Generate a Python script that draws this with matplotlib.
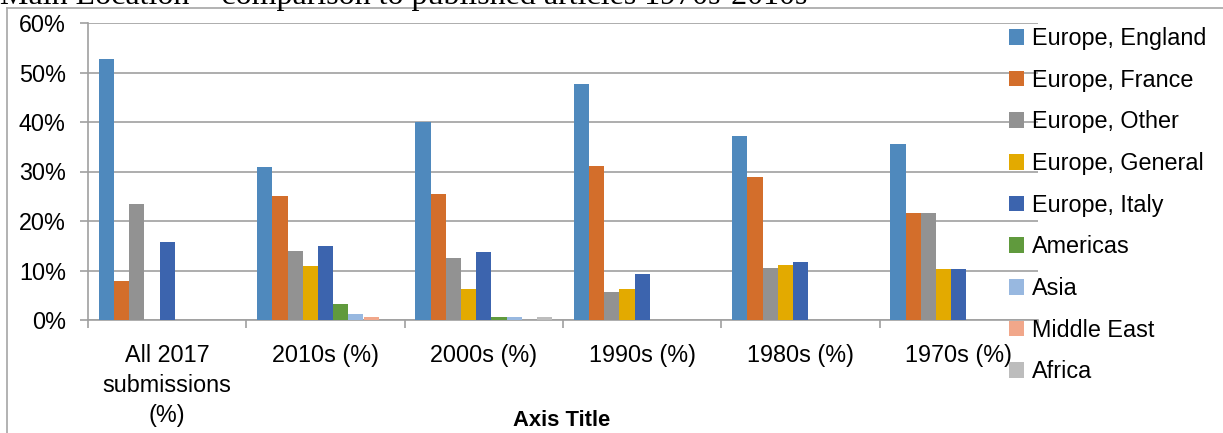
import matplotlib
matplotlib.use("Agg")
import matplotlib.pyplot as plt
from matplotlib.lines import Line2D
from matplotlib.ticker import FuncFormatter, FixedLocator
import numpy as np

categories = ["All 2017\nsubmissions\n(%)", "2010s (%)", "2000s (%)",
              "1990s (%)", "1980s (%)", "1970s (%)"]

series_names = ["Europe, England", "Europe, France", "Europe, Other",
                "Europe, General", "Europe, Italy", "Americas", "Asia",
                "Middle East", "Africa"]

europe_england = [52.8, 30.9, 40.0, 47.6, 37.2, 35.6]
europe_france = [7.8, 25.0, 25.5, 31.2, 28.9, 21.7]
europe_other = [23.5, 13.9, 12.5, 5.6, 10.5, 21.7]
europe_general = [0.0, 10.9, 6.3, 6.3, 11.2, 10.3]
europe_italy = [15.7, 15.0, 13.8, 9.3, 11.7, 10.3]
americas = [0.0, 3.2, 0.6, 0.0, 0.0, 0.0]
asia = [0.0, 1.2, 0.6, 0.0, 0.0, 0.0]
middle_east = [0.0, 0.6, 0.0, 0.0, 0.0, 0.0]
africa = [0.0, 0.0, 0.6, 0.0, 0.0, 0.0]

all_series = [europe_england, europe_france, europe_other, europe_general,
              europe_italy, americas, asia, middle_east, africa]

colors = ["#4f89bd", "#d36e2b", "#929292", "#e3aa00", "#3c64ae",
          "#609a3d", "#98b8e0", "#f1a78a", "#bdbdbd"]

W, H = 1223, 433
fig = plt.figure(figsize=(W / 100, H / 100), dpi=100)
ax = fig.add_axes([88 / W, 1 - 320 / H, 950 / W, (320 - 23) / H])

x = np.arange(len(categories))
bw = 0.096
for i, (vals, name, c) in enumerate(zip(all_series, series_names, colors)):
    ax.bar(x + (i - 4) * bw, np.array(vals) / 100, width=bw, color=c,
           label=name, zorder=3)

ax.set_xlim(-0.5, len(categories) - 0.5)
ax.set_ylim(0, 0.6)
ax.set_yticks(np.arange(0, 0.61, 0.1))
ax.yaxis.set_major_formatter(FuncFormatter(lambda v, p: f"{v * 100:.0f}%"))
ax.grid(axis="y", color="#a0a0a0", lw=1.2, zorder=0)

ax.set_xticks(x)
ax.set_xticklabels(categories, fontfamily="Liberation Sans", fontsize=16.8,
                   linespacing=1.38)
ax.xaxis.set_minor_locator(FixedLocator(np.arange(-0.5, len(categories), 1)))
ax.tick_params(axis="x", which="major", length=0, pad=17.5)
ax.tick_params(axis="x", which="minor", length=6, color="#a0a0a0", width=1.2)
ax.tick_params(axis="y", length=6, color="#a0a0a0", width=1.2, pad=10)
for lab in ax.get_yticklabels():
    lab.set_fontfamily("Liberation Sans")
    lab.set_fontsize(16.8)

for s in ["top", "right"]:
    ax.spines[s].set_visible(False)
for s in ["left", "bottom"]:
    ax.spines[s].set_color("#a0a0a0")
    ax.spines[s].set_linewidth(1.2)

fig.text(562 / W, 1 - 420 / H, "Axis Title", ha="center", va="center",
         fontfamily="Liberation Sans", fontweight="bold", fontsize=15.8)

leg = ax.legend(loc="upper left", bbox_to_anchor=(1009 / W, 1 - 27 / H),
                bbox_transform=fig.transFigure, frameon=False,
                prop={"family": "Liberation Sans", "size": 16.8},
                handlelength=0.64, handleheight=0.64, handletextpad=0.35,
                labelspacing=0.80, borderpad=0, borderaxespad=0)

# chart frame and clipped title above it
fig.add_artist(Line2D([6.5 / W, 1], [1 - 8 / H, 1 - 8 / H],
                      transform=fig.transFigure, color="#a6a6a6", lw=1.2))
fig.add_artist(Line2D([6.5 / W, 6.5 / W], [0, 1 - 8 / H],
                      transform=fig.transFigure, color="#a6a6a6", lw=1.2))
fig.text(0, 1 - 4 / H, "Main Location \u2013 comparison to published articles 1970s-2010s",
         ha="left", va="baseline", fontfamily="Liberation Serif", fontsize=23)

fig.savefig("out.png", dpi=100)
